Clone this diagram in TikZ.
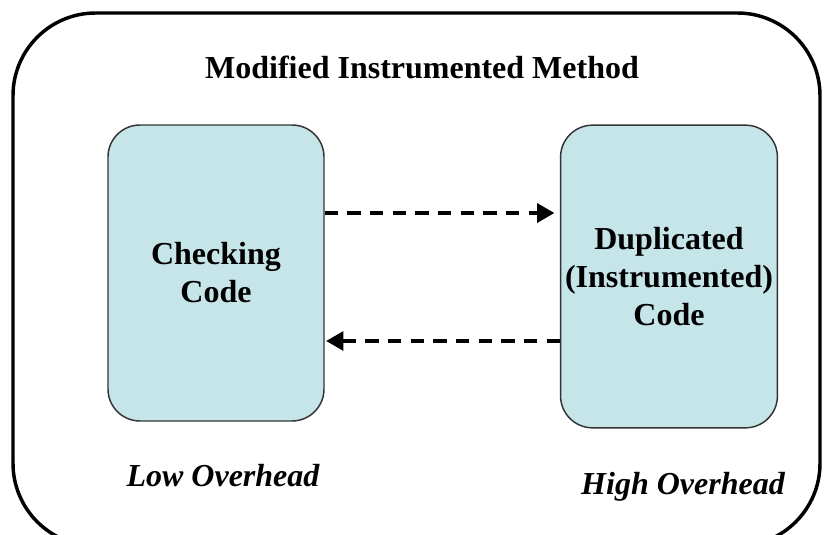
\documentclass[tikz,border=0pt]{standalone}
\usepackage{fontspec}
\setmainfont{Liberation Serif}
\usetikzlibrary{arrows.meta}
\definecolor{boxfill}{RGB}{197,229,233}
\tikzset{
    codebox/.style={draw=black!80, line width=1.1pt, fill=boxfill, rounded corners=24pt, align=center, font=\fontsize{24}{28.5}\selectfont\bfseries},
    flow/.style={line width=3pt, dash pattern=on 10pt off 7pt, -{Triangle[length=13pt,width=14pt]}},
    note/.style={font=\fontsize{24}{28}\selectfont\bfseries\itshape}
}

\begin{document}
\begin{tikzpicture}[x=0.75pt, y=-0.75pt]
    \clip (0,0) rectangle (824,535);
    \draw[line width=2.6pt, rounded corners=62pt] (13,13) rectangle (820,546);
    \node[anchor=base, font=\fontsize{24}{28}\selectfont\bfseries] (title) at (422,79) {Modified Instrumented Method};
    \node[codebox, minimum width=162pt, minimum height=222pt] (chk) at (216,273) {Checking\\Code};
    \node[codebox, minimum width=156pt, minimum height=227pt] (dup) at (669,276.5) {Duplicated\\(Instrumented)\\Code};
    \draw[flow, shorten >=4pt] ([yshift=45pt]chk.east) -- ([yshift=45pt]chk.east -| dup.west);
    \draw[flow, shorten >=1pt] ([yshift=-51pt]chk.east -| dup.west) -- ([yshift=-51pt]chk.east);
    \node[note, anchor=base] (low) at (223,486) {Low Overhead};
    \node[note, anchor=base] (high) at (683,494) {High Overhead};
\end{tikzpicture}
\end{document}
